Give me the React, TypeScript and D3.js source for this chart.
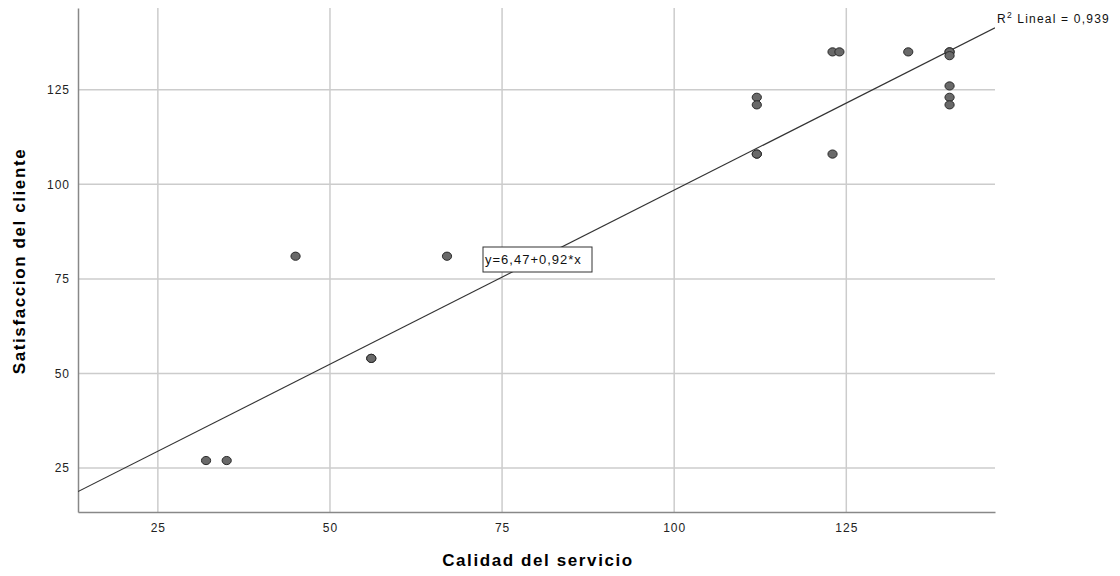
import React, { useRef, useEffect } from "react";
import * as d3 from "d3";

// Calidad del servicio (x) vs Satisfaccion del cliente (y)
const calidad = [32, 35, 45, 67, 56, 56, 112, 112, 112, 112, 123, 123, 124, 134, 140, 140, 140, 140, 140, 140];
const satisfaccion = [27, 27, 81, 81, 54, 54, 123, 121, 108, 108, 108, 135, 135, 135, 135, 135, 134, 126, 123, 121];
const xTicks = [25, 50, 75, 100, 125];
const yTicks = [25, 50, 75, 100, 125];
const intercept = 6.47;
const slope = 0.92;
const r2Label = "0,939";
const eqLabel = "y=6,47+0,92*x";

const App = () => {
  const ref = useRef<SVGSVGElement>(null);

  useEffect(() => {
    const svg = d3.select(ref.current);
    svg.selectAll("*").remove();

    const width = 1120;
    const height = 576;
    const margin = { top: 8, right: 125, bottom: 64, left: 78 };
    const font = "Arial, 'Liberation Sans', sans-serif";

    const x = d3
      .scaleLinear()
      .domain([13.4, 146.6])
      .range([margin.left, width - margin.right]);

    const y = d3
      .scaleLinear()
      .domain([13.4, 146.6])
      .range([height - margin.bottom, margin.top]);

    svg
      .append("defs")
      .append("clipPath")
      .attr("id", "plotclip")
      .append("rect")
      .attr("x", margin.left)
      .attr("y", margin.top)
      .attr("width", width - margin.right - margin.left)
      .attr("height", height - margin.bottom - margin.top);

    // grid
    const grid = svg.append("g");
    grid
      .selectAll("line.vx")
      .data(xTicks)
      .join("line")
      .attr("x1", (d) => x(d))
      .attr("x2", (d) => x(d))
      .attr("y1", margin.top)
      .attr("y2", height - margin.bottom)
      .attr("stroke", "#cccccc")
      .attr("stroke-width", 1.5);
    grid
      .selectAll("line.hy")
      .data(yTicks)
      .join("line")
      .attr("x1", margin.left)
      .attr("x2", width - margin.right)
      .attr("y1", (d) => y(d))
      .attr("y2", (d) => y(d))
      .attr("stroke", "#cccccc")
      .attr("stroke-width", 1.5);

    // axes
    const xAxis = d3.axisBottom(x).tickValues(xTicks).tickSize(0).tickPadding(11);
    const yAxis = d3.axisLeft(y).tickValues(yTicks).tickSize(0).tickPadding(8);

    const gx = svg
      .append("g")
      .attr("transform", `translate(0,${height - margin.bottom})`)
      .call(xAxis);
    const gy = svg
      .append("g")
      .attr("transform", `translate(${margin.left},0)`)
      .call(yAxis);

    [gx, gy].forEach((g) => {
      g.select(".domain").attr("stroke", "#888888").attr("stroke-width", 1.5);
      g.selectAll("text")
        .attr("font-family", font)
        .attr("font-size", 12)
        .attr("letter-spacing", 1)
        .attr("fill", "#222");
    });

    // axis titles
    svg
      .append("text")
      .attr("text-anchor", "middle")
      .attr("x", 538)
      .attr("y", 566)
      .attr("font-family", font)
      .attr("font-weight", "bold")
      .attr("font-size", 17)
      .attr("letter-spacing", 1.6)
      .text("Calidad del servicio");

    svg
      .append("text")
      .attr("text-anchor", "middle")
      .attr("transform", "rotate(-90)")
      .attr("x", -261)
      .attr("y", 25)
      .attr("font-family", font)
      .attr("font-weight", "bold")
      .attr("font-size", 17)
      .attr("letter-spacing", 1.6)
      .text("Satisfaccion del cliente");

    // fit line
    const [x0, x1] = x.domain();
    svg
      .append("line")
      .attr("clip-path", "url(#plotclip)")
      .attr("x1", x(x0))
      .attr("x2", x(x1))
      .attr("y1", y(intercept + slope * x0))
      .attr("y2", y(intercept + slope * x1))
      .attr("stroke", "#333")
      .attr("stroke-width", 1.2);

    // points
    svg
      .append("g")
      .selectAll("ellipse")
      .data(calidad.map((c, i) => [c, satisfaccion[i]]))
      .join("ellipse")
      .attr("cx", (d) => x(d[0]))
      .attr("cy", (d) => y(d[1]))
      .attr("rx", 4.6)
      .attr("ry", 4.1)
      .attr("fill", "#696969")
      .attr("stroke", "#2a2a2a")
      .attr("stroke-width", 1);

    // equation box
    const eq = svg.append("g").attr("transform", "translate(483,247)");
    eq.append("rect")
      .attr("width", 109)
      .attr("height", 25)
      .attr("fill", "white")
      .attr("stroke", "#333")
      .attr("stroke-width", 1);
    eq.append("text")
      .attr("x", 2)
      .attr("y", 17)
      .attr("font-family", font)
      .attr("font-size", 13)
      .attr("letter-spacing", 1)
      .attr("fill", "#111")
      .text(eqLabel);

    // R2 label
    const r2 = svg
      .append("text")
      .attr("x", 997)
      .attr("y", 23)
      .attr("font-family", font)
      .attr("font-size", 12)
      .attr("letter-spacing", 1.2)
      .attr("fill", "#111");
    r2.append("tspan").text("R");
    r2.append("tspan").attr("font-size", 8.5).attr("dy", -5).text("2");
    r2.append("tspan").attr("dy", 5).text(` Lineal = ${r2Label}`);
  }, []);

  return (
    <svg
      ref={ref}
      width={1120}
      height={576}
      style={{ position: "absolute", left: 0, top: 0, background: "white" }}
    />
  );
};

export default App;
